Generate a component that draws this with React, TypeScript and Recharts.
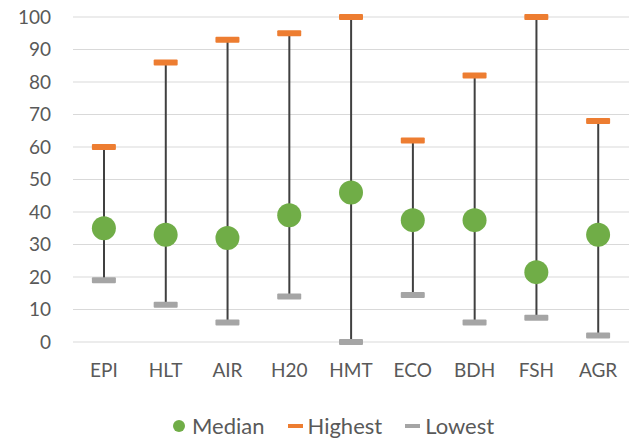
import { Bar, CartesianGrid, ComposedChart, Scatter, XAxis, YAxis } from "recharts";

const categories = ["EPI", "HLT", "AIR", "H20", "HMT", "ECO", "BDH", "FSH", "AGR"];
const median = [35, 33, 32, 39, 46, 37.5, 37.5, 21.5, 33];
const highest = [60, 86, 93, 95, 100, 62, 82, 100, 68];
const lowest = [19, 11.5, 6, 14, 0, 14.5, 6, 7.5, 2];
const yTicks = [0, 10, 20, 30, 40, 50, 60, 70, 80, 90, 100];

const GREEN = "#70AD47";
const ORANGE = "#ED7D31";
const GRAY = "#A5A5A5";
const TEXT = "#595959";
const FONT = "Lato, 'Noto Sans', sans-serif";

const rows = categories.map((name, i) => ({
  name,
  median: median[i],
  highest: highest[i],
  lowest: lowest[i],
  range: [lowest[i], highest[i]],
}));

const dash = (color: string) => (props: any) => {
  const { cx, cy } = props;
  if (cx == null || cy == null) return null;
  return <rect x={cx - 12} y={cy - 3} width={24} height={6} rx={1} fill={color} />;
};

const dot = (props: any) => {
  const { cx, cy } = props;
  if (cx == null || cy == null) return null;
  return <circle cx={cx} cy={cy} r={12} fill={GREEN} />;
};

function LegendRow() {
  const item = { display: "flex", alignItems: "center" } as const;
  return (
    <div
      style={{
        position: "absolute",
        top: 413,
        left: 173,
        display: "flex",
        fontFamily: FONT,
        fontSize: 22,
        color: TEXT,
        lineHeight: "26px",
      }}
    >
      <div style={{ ...item, marginRight: 23 }}>
        <span style={{ width: 12, height: 12, borderRadius: 6, background: GREEN, marginRight: 7 }} />
        Median
      </div>
      <div style={{ ...item, marginRight: 23 }}>
        <span style={{ width: 15, height: 4, background: ORANGE, marginRight: 5 }} />
        Highest
      </div>
      <div style={item}>
        <span style={{ width: 15, height: 4, background: GRAY, marginRight: 5 }} />
        Lowest
      </div>
    </div>
  );
}

export default function App() {
  const tick = { fill: TEXT, fontSize: 19, fontFamily: FONT };
  return (
    <div style={{ position: "absolute", left: 0, top: 0, width: 632, height: 438, background: "#fff" }}>
      <ComposedChart
        width={632}
        height={438}
        data={rows}
        margin={{ top: 17, right: 3, bottom: 0, left: 0 }}
      >
        <CartesianGrid vertical={false} stroke="#D9D9D9" strokeWidth={1.2} />
        <XAxis
          dataKey="name"
          axisLine={false}
          tickLine={false}
          tickSize={0}
          tickMargin={22}
          height={96}
          tick={tick}
          interval={0}
        />
        <YAxis
          domain={[0, 100]}
          ticks={yTicks}
          axisLine={false}
          tickLine={false}
          tickSize={0}
          tickMargin={22}
          width={73}
          tick={tick}
          interval={0}
        />
        <Bar dataKey="range" barSize={2} fill="#404040" isAnimationActive={false} />
        <Scatter dataKey="lowest" shape={dash(GRAY)} isAnimationActive={false} />
        <Scatter dataKey="highest" shape={dash(ORANGE)} isAnimationActive={false} />
        <Scatter dataKey="median" shape={dot} isAnimationActive={false} />
      </ComposedChart>
      <LegendRow />
    </div>
  );
}
